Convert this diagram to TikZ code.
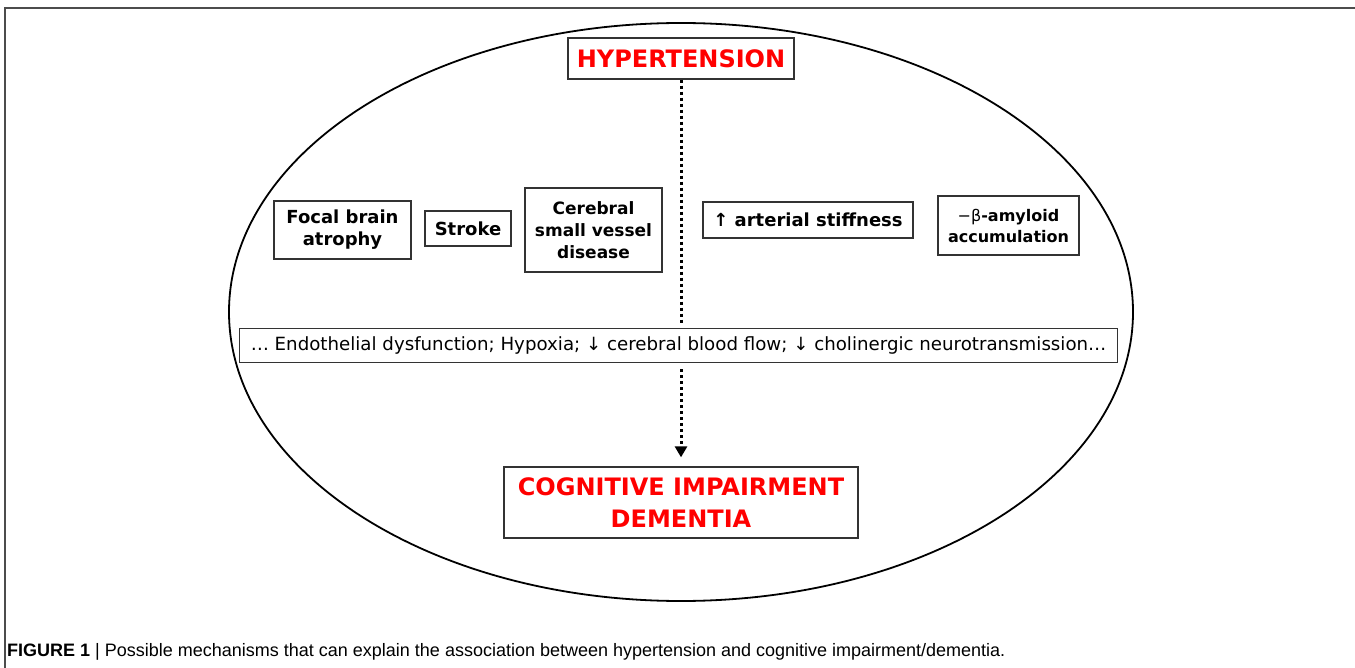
\documentclass[tikz,border=0pt]{standalone}
\usepackage{fontspec}
\setmainfont{DejaVu Sans}
\newfontfamily\capfont{Liberation Sans}
\usetikzlibrary{arrows.meta}
\begin{document}
\begin{tikzpicture}[x=1pt,y=-1pt,
  box/.style={draw=black!80, line width=1.3pt, inner sep=0pt, align=center,
    font=\fontsize{18}{22}\selectfont\bfseries},
  redbox/.style={box, text=red, font=\fontsize{24}{32}\selectfont\bfseries},
  dotline/.style={line width=3pt, dash pattern=on 3pt off 3pt}
]
\useasboundingbox (0,0) rectangle (1355,668);
\draw[black!70, line width=1.4pt] (5,668) -- (5,8) -- (1355,8);
\draw[line width=1.8pt] (681,312) ellipse [x radius=452, y radius=289];

\node[redbox, minimum width=226pt, minimum height=41pt] (hyp) at (681,58.5) {HYPERTENSION};
\node[box, minimum width=137pt, minimum height=58pt] (focal) at (342.5,230) {Focal brain\\atrophy};
\node[box, minimum width=86pt, minimum height=35pt] (stroke) at (468,228.5) {Stroke};
\node[box, font=\fontsize{17}{22}\selectfont\bfseries, minimum width=137pt, minimum height=84pt] (csvd) at (593.5,230) {Cerebral\\small vessel\\disease};
\node[box, minimum width=210pt, minimum height=36pt] (stiff) at (808,220) {↑ arterial stiffness};
\node[box, font=\fontsize{16}{21}\selectfont\bfseries, minimum width=141pt, minimum height=59pt] (amy) at (1008.5,225.5) {{\mdseries −β}-amyloid\\accumulation};
\node[box, font=\fontsize{18.2}{21}\selectfont\mdseries, minimum width=878pt, minimum height=34pt] (endo) at (678.5,345.5)
  {… Endothelial dysfunction; Hypoxia; ↓ cerebral blood flow; ↓ cholinergic neurotransmission…};
\node[redbox, minimum width=354pt, minimum height=71pt] (cog) at (681,502.5) {COGNITIVE IMPAIRMENT\\DEMENTIA};

\coordinate (t1) at ([yshift=5pt]endo.north -| hyp.south);
\coordinate (t2) at ([yshift=-6pt]endo.south -| hyp.south);
\coordinate (t3) at ([yshift=9pt]cog.north);
\draw[dotline] (hyp.south) -- (t1);
\draw[dotline, -{Triangle[width=12pt,length=11pt]}] (t2) -- (t3);

\node[anchor=base west, inner sep=0pt, font=\capfont\fontsize{18}{21}\selectfont] (cap) at (7,656)
  {\textbf{FIGURE 1} | Possible mechanisms that can explain the association between hypertension and cognitive impairment/dementia.};
\end{tikzpicture}
\end{document}
